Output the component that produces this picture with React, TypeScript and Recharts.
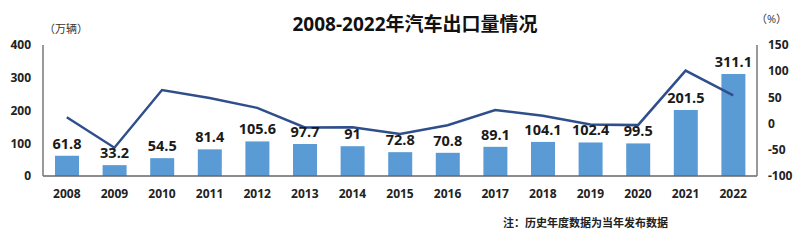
import React from 'react';
import { ComposedChart, Bar, Line, XAxis, YAxis, LabelList } from 'recharts';

const years = ['2008', '2009', '2010', '2011', '2012', '2013', '2014', '2015', '2016', '2017', '2018', '2019', '2020', '2021', '2022'];
const exportVolume = [61.8, 33.2, 54.5, 81.4, 105.6, 97.7, 91, 72.8, 70.8, 89.1, 104.1, 102.4, 99.5, 201.5, 311.1];
const growthRate = [12, -46, 64, 49, 30, -7.5, -7, -20, -3, 26, 15, -1.6, -2.9, 101, 54];
const leftTicks = [0, 100, 200, 300, 400];
const rightTicks = [-100, -50, 0, 50, 100, 150];

const data = years.map((year, i) => ({ year, volume: exportVolume[i], growth: growthRate[i] }));

const font = '"Open Sans", "Noto Sans CJK SC", sans-serif';

export default function App() {
  return (
    <div style={{ position: 'absolute', left: 0, top: 0, width: 800, height: 241, background: '#fff', fontFamily: font }}>
      <div style={{ position: 'absolute', left: 0, width: 800, top: 9, textAlign: 'center', paddingLeft: 30, boxSizing: 'border-box', fontSize: 19, fontWeight: 700, color: '#111' }}>
        2008-2022年汽车出口量情况
      </div>
      <div style={{ position: 'absolute', left: 44, top: 20, fontSize: 11, color: '#333' }}>（万辆）</div>
      <div style={{ position: 'absolute', left: 756, top: 10, fontSize: 11, color: '#333' }}>（%）</div>
      <div style={{ position: 'absolute', left: 503, top: 214, fontSize: 11, fontWeight: 700, color: '#222' }}>
        注：历史年度数据为当年发布数据
      </div>
      <ComposedChart width={800} height={241} data={data} margin={{ top: 45, right: 0, bottom: 35, left: 0 }}>
        <XAxis
          dataKey="year"
          height={30}
          interval={0}
          tickLine={false}
          tickSize={0}
          tickMargin={13}
          axisLine={{ stroke: '#666', strokeWidth: 1.5 }}
          tick={{ fontSize: 12, fontWeight: 700, fill: '#222', fontFamily: font }}
        />
        <YAxis
          yAxisId="left"
          width={43}
          domain={[0, 400]}
          ticks={leftTicks}
          interval={0}
          tickLine={false}
          tickSize={0}
          tickMargin={12}
          axisLine={{ stroke: '#777', strokeWidth: 1.5 }}
          tick={{ fontSize: 12, fontWeight: 700, fill: '#222', fontFamily: font }}
        />
        <YAxis
          yAxisId="right"
          orientation="right"
          width={43}
          domain={[-100, 150]}
          ticks={rightTicks}
          interval={0}
          tickLine={false}
          tickSize={0}
          tickMargin={11}
          axisLine={{ stroke: '#777', strokeWidth: 1.5 }}
          tick={{ fontSize: 12, fontWeight: 700, fill: '#222', fontFamily: font }}
        />
        <Bar yAxisId="left" dataKey="volume" fill="#5B9BD5" barSize={24} isAnimationActive={false}>
          <LabelList dataKey="volume" position="top" offset={7} style={{ fontSize: 14.5, fontWeight: 700, fill: '#1a1a1a', fontFamily: font }} />
        </Bar>
        <Line
          yAxisId="right"
          dataKey="growth"
          type="linear"
          stroke="#2F4E8C"
          strokeWidth={2.5}
          dot={false}
          isAnimationActive={false}
        />
      </ComposedChart>
    </div>
  );
}
